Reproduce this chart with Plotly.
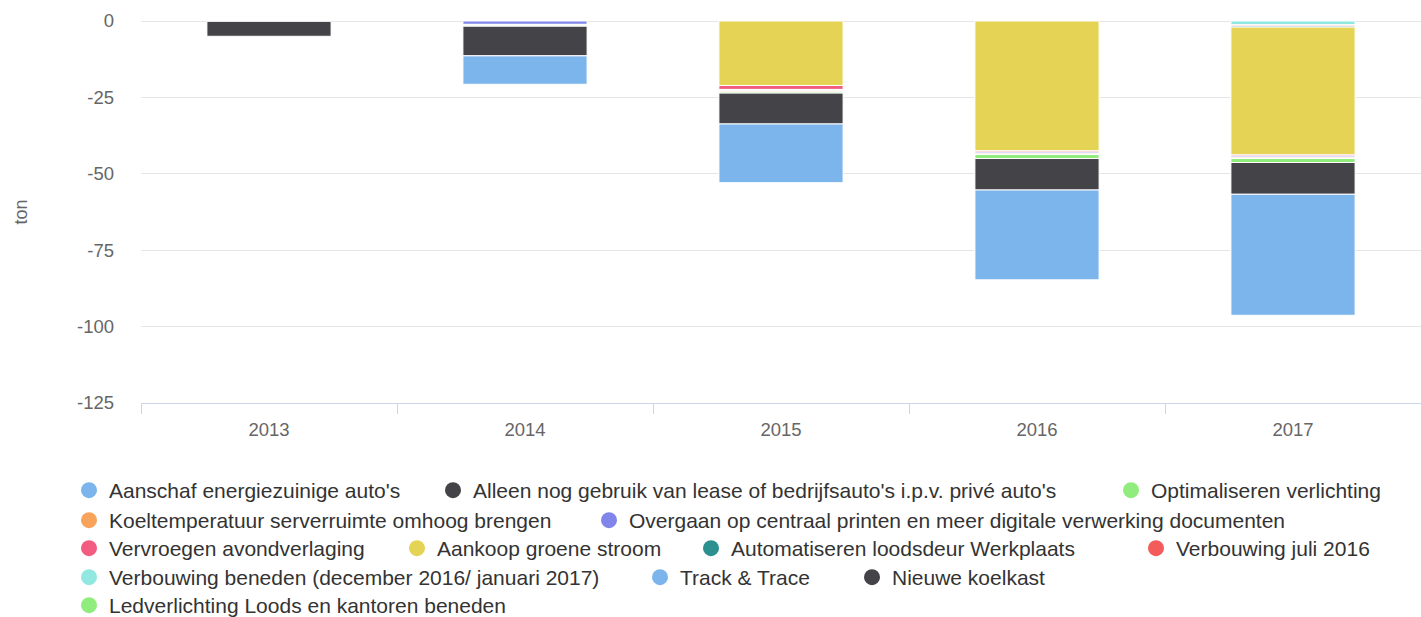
import plotly.graph_objects as go

years = ["2013", "2014", "2015", "2016", "2017"]

series_names = [
    "Aanschaf energiezuinige auto's",
    "Alleen nog gebruik van lease of bedrijfsauto's i.p.v. privé auto's",
    "Optimaliseren verlichting",
    "Koeltemperatuur serverruimte omhoog brengen",
    "Overgaan op centraal printen en meer digitale verwerking documenten",
    "Vervroegen avondverlaging",
    "Aankoop groene stroom",
    "Automatiseren loodsdeur Werkplaats",
    "Verbouwing juli 2016",
    "Verbouwing beneden (december 2016/ januari 2017)",
    "Track & Trace",
    "Nieuwe koelkast",
    "Ledverlichting Loods en kantoren beneden",
]

series_colors = [
    "#7cb5ec", "#434348", "#90ed7d", "#f7a35c", "#8085e9", "#f15c80",
    "#e4d354", "#2b908f", "#f45b5b", "#91e8e1", "#7cb5ec", "#434348", "#90ed7d",
]

# values per year (2013..2017), ton
aanschaf_autos = [0, -9.3, -19.2, -29.4, -39.6]
alleen_lease = [-5.0, -9.7, -10.1, -10.3, -10.4]
optimaliseren_verlichting = [0, -0.3, -0.4, -1.3, -1.3]
koeltemperatuur = [0, -0.3, -0.4, -0.4, -0.4]
centraal_printen = [0, -1.1, -0.4, -0.4, -0.4]
vervroegen_avond = [0, 0, -1.3, -0.4, -0.4]
groene_stroom = [0, 0, -21.1, -42.5, -41.8]
loodsdeur = [0, 0, 0, 0, -0.4]
verbouwing_juli = [0, 0, 0, 0, -0.4]
verbouwing_beneden = [0, 0, 0, 0, -1.2]
track_trace = [0, 0, 0, 0, 0]
nieuwe_koelkast = [0, 0, 0, 0, 0]
ledverlichting = [0, 0, 0, 0, 0]

series_values = [
    aanschaf_autos, alleen_lease, optimaliseren_verlichting, koeltemperatuur,
    centraal_printen, vervroegen_avond, groene_stroom, loodsdeur,
    verbouwing_juli, verbouwing_beneden, track_trace, nieuwe_koelkast,
    ledverlichting,
]

y_tick_vals = [0, -25, -50, -75, -100, -125]
y_tick_text = ["0", "-25", "-50", "-75", "-100", "-125"]

# layout: legend symbol centres (px) for each entry, flowing like the original
legend_symbol_px = [
    (88, 490), (452, 490), (1130, 490),
    (88, 520), (608, 520),
    (88, 548), (416, 548), (710, 548), (1155, 548),
    (88, 577), (659, 577), (871, 577),
    (88, 605),
]

FONT = "Liberation Sans, Arial, Helvetica, sans-serif"
W, H = 1421, 617
LEG_FONT = 21

fig = go.Figure()

# bars: last series stacked nearest to zero (Highcharts reversedStacks)
for i in reversed(range(len(series_names))):
    fig.add_trace(go.Bar(
        x=years, y=series_values[i], name=series_names[i],
        marker=dict(color=series_colors[i], line=dict(color="#ffffff", width=1)),
        width=0.485, showlegend=False, legendgroup=str(i),
    ))

# legend entries with circular symbols, one legend box per entry
legends = {}
for i in range(len(series_names)):
    key = "legend" if i == 0 else f"legend{i + 1}"
    fig.add_trace(go.Scatter(
        x=[None], y=[None], mode="markers", name=series_names[i],
        marker=dict(color=series_colors[i], size=16, symbol="circle"),
        legendgroup=str(i), showlegend=True, legend=key,
    ))
    cx, cy = legend_symbol_px[i]
    legends[key] = dict(
        orientation="h", xref="container", yref="container",
        x=(cx - 19) / W, y=1 - (cy - 20) / H, xanchor="left", yanchor="top",
        font=dict(family=FONT, size=LEG_FONT, color="#333333"),
        itemsizing="trace", bgcolor="rgba(0,0,0,0)",
    )

fig.update_layout(
    width=W, height=H,
    margin=dict(l=141, r=0, t=21, b=214, autoexpand=False),
    barmode="relative",
    plot_bgcolor="#ffffff", paper_bgcolor="#ffffff",
    font=dict(family=FONT, color="#666666", size=18),
    **legends,
)

fig.update_xaxes(
    type="category", showline=True, linecolor="#ccd6eb", linewidth=1,
    ticks="outside", tickson="boundaries", ticklen=10, tickcolor="#ccd6eb",
    showgrid=False, tickfont=dict(size=18.5, color="#666666"),
    ticklabelstandoff=10, range=[-0.5, 4.5],
)

fig.update_yaxes(
    range=[-125, 0], tickvals=y_tick_vals, ticktext=y_tick_text,
    showgrid=True, gridcolor="#e6e6e6", gridwidth=1,
    zeroline=True, zerolinecolor="#e6e6e6", zerolinewidth=1,
    showline=False, ticks="", ticklabelstandoff=26,
    tickfont=dict(size=18.5, color="#666666"),
    title=dict(text="ton", font=dict(size=18, color="#666666"), standoff=44),
)

fig.write_html(
    "out.html",
    config={"displayModeBar": False},
    post_script="document.body.style.margin='0';document.body.style.overflow='hidden';",
)
